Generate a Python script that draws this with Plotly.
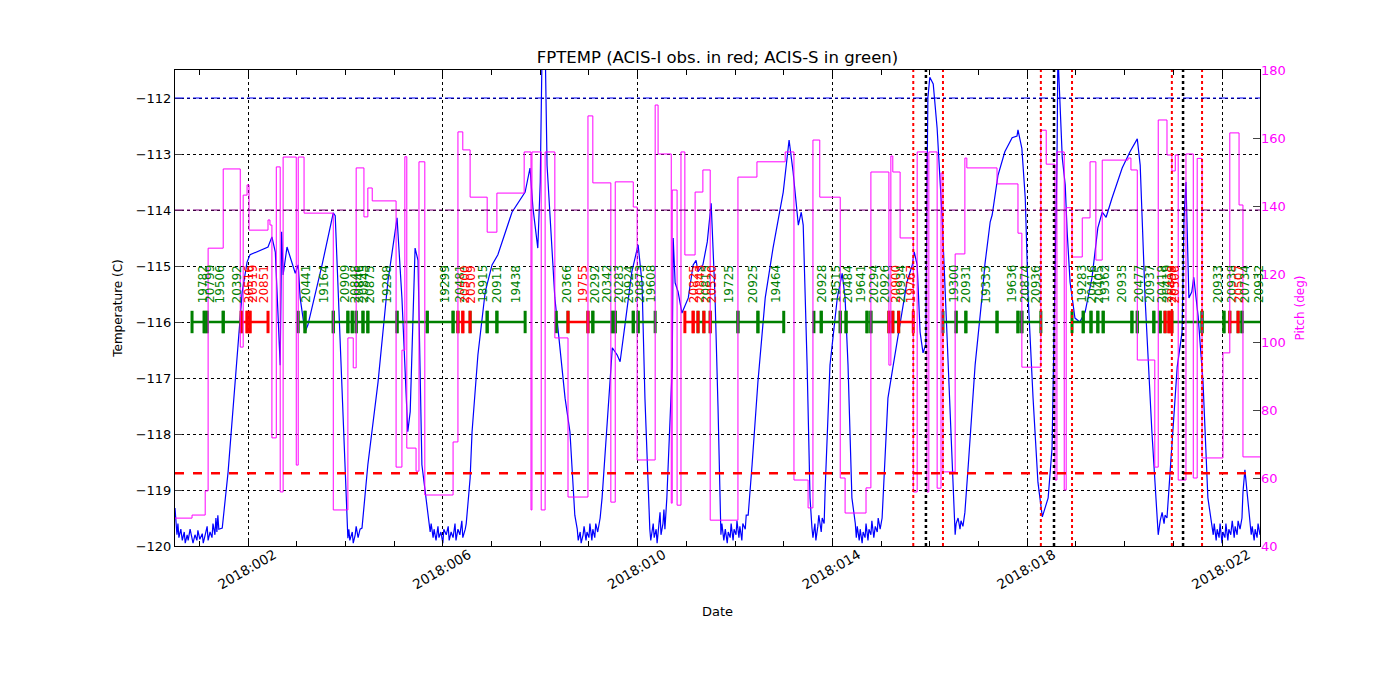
import numpy as np
import pandas as pd
import plotly.graph_objects as go

# FPTEMP readings, time in fractional day of year 2018
temp_doy = [
    0.50, 0.52, 0.54, 0.56, 0.58, 0.62, 0.65, 0.69, 0.71, 0.75, 0.77, 0.81, 0.85, 0.87, 0.91, 0.95,
    0.97, 1.01, 1.06, 1.08, 1.12, 1.16, 1.18, 1.22, 1.26, 1.28, 1.32, 1.34, 1.36, 1.38, 1.40, 1.47,
    1.59, 1.73, 1.88, 1.98, 2.04, 2.41, 2.49, 2.56, 2.62, 2.66, 2.69, 2.72, 2.80, 2.97, 3.03, 3.07,
    3.17, 3.23, 3.52, 3.75, 3.79, 3.93, 4.03, 4.05,
    4.07, 4.09, 4.14, 4.16, 4.20, 4.22, 4.26, 4.30, 4.34,
    4.46, 4.67, 4.87, 5.06, 5.16, 5.28, 5.33, 5.43, 5.49, 5.57, 5.68, 5.70,
    5.74, 5.76, 5.80, 5.82, 5.86, 5.90, 5.92, 5.96, 6.00, 6.02, 6.07, 6.11, 6.13, 6.17, 6.21, 6.25,
    6.27, 6.31, 6.35, 6.39, 6.41, 6.46, 6.48, 6.52,
    6.56, 6.60, 6.72, 6.87, 7.01, 7.13, 7.42, 7.69, 7.79, 7.85, 7.95, 8.00, 8.04, 8.10, 8.14, 8.30,
    8.51, 8.61, 8.71,
    8.76, 8.78, 8.82, 8.84, 8.88, 8.90, 8.94, 8.96, 9.00, 9.02, 9.06, 9.08, 9.12, 9.14, 9.18, 9.23,
    9.27, 9.33, 9.48, 9.58, 9.64, 9.74, 9.88, 10.01, 10.09, 10.15, 10.23,
    10.25, 10.27, 10.32, 10.34, 10.38, 10.40, 10.44, 10.46, 10.48, 10.52, 10.54, 10.56, 10.60,
    10.71, 10.73, 10.77, 10.83, 10.91, 11.04, 11.14, 11.20, 11.24, 11.34, 11.43, 11.51, 11.59, 11.65,
    11.69,
    11.71, 11.73, 11.77, 11.80, 11.84, 11.86, 11.90, 11.92, 11.96, 11.98, 12.02, 12.04, 12.08, 12.10,
    12.14, 12.16, 12.21, 12.23, 12.27,
    12.35, 12.47, 12.62, 12.78, 12.99, 13.11, 13.19, 13.30, 13.36, 13.40, 13.48, 13.54, 13.58,
    13.60, 13.64, 13.66, 13.70, 13.72, 13.77, 13.79, 13.83,
    13.85, 13.95, 14.10, 14.20, 14.26, 14.32, 14.40, 14.47,
    14.49, 14.51, 14.55, 14.57, 14.61, 14.63, 14.67, 14.69, 14.73, 14.75, 14.79, 14.81, 14.85, 14.88,
    14.92, 14.94, 14.98, 15.02,
    15.04, 15.14, 15.24, 15.39, 15.53, 15.64, 15.68, 15.74, 15.80, 15.86, 15.92, 15.94, 15.96, 16.00,
    16.07, 16.15, 16.25, 16.35, 16.46, 16.52,
    16.54, 16.58, 16.62, 16.64, 16.68, 16.72,
    16.79, 16.93, 17.07, 17.13, 17.24, 17.28, 17.40, 17.54, 17.69, 17.79, 17.81, 17.89, 17.96, 18.02,
    18.12, 18.22, 18.31, 18.37, 18.43, 18.51, 18.57, 18.61, 18.63, 18.67, 18.72, 18.78, 18.82, 18.88,
    18.98, 19.08, 19.19, 19.33, 19.45, 19.54, 19.62, 19.74, 19.95, 20.11, 20.26, 20.32, 20.42, 20.56,
    20.67,
    20.69, 20.73, 20.77, 20.81, 20.83, 20.87, 20.97, 21.08, 21.18, 21.22, 21.26, 21.28, 21.32, 21.38,
    21.42, 21.51, 21.61, 21.71, 21.80,
    21.82, 21.84, 21.88, 21.90, 21.94, 21.96, 22.00, 22.02, 22.06, 22.08, 22.12, 22.14, 22.18, 22.21,
    22.25, 22.27, 22.31, 22.33, 22.37, 22.41,
    22.43, 22.47, 22.53, 22.58, 22.60, 22.62, 22.66, 22.68, 22.72, 22.74, 22.78,
]
temp_c = [
    -119.32, -119.55, -119.80, -119.60, -119.85, -119.70, -119.90, -119.75, -119.95, -119.80,
    -119.90, -119.70, -119.85, -119.95, -119.80, -119.90, -119.72, -119.88, -119.78, -119.95,
    -119.80, -119.65, -119.90, -119.75, -119.85, -119.60, -119.80, -119.50, -119.75, -119.45,
    -119.70, -119.68,
    -118.68, -117.07, -115.46, -114.93, -114.80, -114.66, -114.48, -114.75, -115.80, -116.77,
    -114.39, -115.16, -114.66, -115.13, -114.98, -115.57, -116.18, -116.05, -114.98, -114.05,
    -114.10, -117.36, -119.39, -119.86,
    -119.70, -119.90, -119.75, -119.95, -119.80, -119.65, -119.85, -119.70, -119.68,
    -118.55, -117.07, -115.29, -114.14, -115.57, -117.96, -117.60, -114.68, -114.90, -118.55,
    -119.27, -119.50,
    -119.75, -119.60, -119.85, -119.70, -119.90, -119.65, -119.85, -119.75, -119.95, -119.70,
    -119.80, -119.65, -119.90, -119.75, -119.85, -119.60, -119.90, -119.70, -119.80, -119.55,
    -119.85, -119.70, -119.60, -119.20,
    -118.79, -117.96, -116.59, -115.46, -114.98, -114.80, -114.04, -113.68, -113.25, -113.96,
    -114.68, -113.50, -111.00, -111.00, -113.20, -115.57, -117.36, -117.96, -119.45,
    -119.70, -119.90, -119.75, -119.95, -119.80, -119.65, -119.90, -119.75, -119.85, -119.60,
    -119.90, -119.70, -119.85, -119.60, -119.75, -119.50,
    -119.14, -118.40, -116.46, -116.59, -116.71, -116.05, -115.11, -114.62, -115.30, -117.36,
    -119.45,
    -119.70, -119.90, -119.60, -119.85, -119.70, -119.95, -119.65, -119.40, -119.80, -119.60,
    -119.35, -119.70, -119.14,
    -116.80, -114.50, -115.30, -115.46, -115.84, -115.57, -114.98, -114.90, -115.10, -114.98,
    -114.57, -113.88, -115.57, -117.50, -119.40,
    -119.80, -119.60, -119.90, -119.70, -119.95, -119.75, -119.85, -119.60, -119.90, -119.70,
    -119.80, -119.55, -119.85, -119.65, -119.90, -119.60, -119.70, -119.45, -119.45,
    -118.55, -117.07, -115.57, -114.68, -113.68, -112.75, -113.30, -114.27, -114.04, -114.27,
    -116.77, -119.14, -119.68,
    -119.85, -119.60, -119.90, -119.65, -119.45, -119.75, -119.50, -119.60,
    -119.00, -116.77, -115.57, -115.13, -115.57, -116.77, -119.14, -119.60,
    -119.85, -119.65, -119.90, -119.70, -119.95, -119.75, -119.85, -119.60, -119.90, -119.70,
    -119.80, -119.55, -119.85, -119.65, -119.75, -119.50, -119.70, -119.50,
    -119.14, -117.36, -116.82, -116.05, -115.29, -114.98, -114.75, -114.98, -116.18, -116.55,
    -116.40, -113.79, -112.00, -111.63, -111.75, -112.54, -114.09, -116.18, -118.55, -119.80,
    -119.60, -119.50, -119.70, -119.55, -119.65, -119.40,
    -118.55, -116.77, -115.57, -114.98, -114.21, -114.09, -113.38, -112.96, -112.71, -112.68,
    -112.57, -112.90, -113.79, -115.57, -117.36, -118.86, -119.48, -119.30, -119.14, -118.25,
    -115.57, -113.20, -111.20, -112.00, -113.07, -113.55, -114.39, -115.29, -115.93, -116.00,
    -115.82, -115.21, -114.32, -114.04, -114.13, -113.79, -113.25, -112.96, -112.73, -113.20,
    -115.57, -117.96, -119.63,
    -119.80, -119.55, -119.40, -119.60, -119.45, -119.50, -118.25, -116.80, -116.18, -114.14,
    -113.50, -114.40, -115.57, -115.46, -115.20, -115.90, -117.07, -119.14, -119.63,
    -119.80, -119.60, -119.90, -119.70, -119.85, -119.60, -119.95, -119.75, -119.85, -119.60,
    -119.90, -119.70, -119.80, -119.55, -119.85, -119.65, -119.80, -119.55, -119.70, -119.50,
    -119.04, -118.64, -119.14, -119.60, -119.80, -119.65, -119.90, -119.70, -119.85, -119.60,
    -119.80,
]

# pitch angle, held constant from each time until the next one
pitch_doy = [
    0.50, 0.85, 1.12, 1.18, 1.49, 1.84, 1.90, 1.98, 2.02, 2.41, 2.45, 2.49, 2.58, 2.66, 2.72, 2.99,
    3.03, 3.15, 3.75, 4.05, 4.16, 4.22, 4.38, 4.46, 4.55, 5.04, 5.16, 5.22, 5.26, 5.45, 5.51, 5.63,
    6.21, 6.31, 6.41, 6.56, 6.91, 7.11, 7.67, 7.81, 7.83, 8.02, 8.10, 8.30, 8.57, 8.98, 9.08, 9.45,
    9.54, 9.91, 9.99, 10.36, 10.42, 10.69, 10.71, 10.81, 10.89, 10.97, 11.18, 11.34, 11.49, 12.06,
    12.45, 13.03, 13.21, 13.50, 13.60, 13.74, 14.16, 14.26, 14.69, 14.79, 15.16, 15.20, 15.24, 15.39,
    15.66, 15.74, 15.94, 15.98, 16.15, 16.23, 16.27, 16.52, 16.72, 16.76, 17.38, 17.81, 17.89, 18.28,
    18.39, 18.57, 18.61, 18.76, 18.80, 18.92, 19.13, 19.29, 19.41, 19.54, 20.07, 20.13, 20.26, 20.62,
    20.69, 20.87, 20.97, 21.04, 21.10, 21.26, 21.41, 21.49, 21.59, 22.02, 22.16, 22.35, 22.43, 22.78,
]
pitch_deg = [
    48.2, 49.1, 56.2, 127.6, 150.9, 98.5, 143.2, 146.2, 132.9, 135.9, 134.4, 71.8, 151.5, 55.9, 154.4, 63.8,
    154.4, 137.9, 50.6, 101.2, 92.4, 151.2, 136.8, 145.3, 141.5, 63.2, 97.6, 154.5, 68.8, 62.0, 153.0, 55.0,
    70.6, 161.8, 156.5, 142.6, 132.3, 143.8, 155.9, 50.6, 155.9, 50.6, 155.9, 101.2, 54.4, 166.5, 146.8, 52.9,
    147.1, 139.7, 65.3, 169.7, 155.3, 52.6, 144.7, 52.0, 155.9, 125.6, 144.1, 150.6, 47.6, 148.5,
    153.0, 155.9, 59.4, 51.2, 159.4, 142.6, 60.0, 49.7, 57.1, 150.0, 93.2, 154.7, 150.0, 130.6,
    55.9, 155.9, 55.9, 155.9, 57.0, 149.7, 61.8, 125.9, 154.1, 151.2, 146.5, 132.0, 92.6, 162.3,
    152.3, 59.4, 155.9, 56.5, 139.5, 125.0, 136.5, 153.0, 124.1, 153.5, 154.1, 150.6, 94.7, 63.2,
    165.3, 155.0, 150.3, 155.0, 59.4, 155.3, 60.0, 154.0, 65.9, 96.8, 161.5, 140.3, 66.2, 66.2,
]

# observations (I = ACIS-I, S = ACIS-S)
obsids = [
    "19782", "20799", "19506", "20392", "20516", "20519", "20851", "20441", "19164", "20909",
    "20848", "20846", "20845", "20875", "19298", "", "19299", "20481", "20500", "20509",
    "18915", "20911", "19438", "20366", "19755", "20292", "20342", "20283", "20924", "20873",
    "19608", "20825", "20843", "20815", "20520", "19725", "20925", "19464", "20928", "19515",
    "20484", "19641", "20294", "20926", "20900", "20934", "19767", "19300", "20931", "19333",
    "19636", "20874", "20936", "19283", "20416", "20405", "19362", "20935", "20477", "20937",
    "20418", "20419", "20499", "20506", "", "20933", "20938", "20507", "20734", "20932",
]
obs_start = [
    0.85, 1.10, 1.16, 1.49, 1.86, 1.98, 2.04, 3.03, 3.17, 3.75, 4.05, 4.14, 4.22, 4.36, 4.46, 5.06,
    5.68, 6.21, 6.31, 6.41, 6.56, 6.91, 7.11, 8.33, 8.57, 8.98, 9.08, 9.48, 9.54, 9.91, 10.01, 10.97,
    11.14, 11.24, 11.36, 11.49, 12.06, 12.47, 13.62, 13.77, 14.16, 14.28, 14.71, 14.79, 15.16, 15.24,
    15.36, 16.27, 16.54, 16.74, 17.38, 17.81, 17.89, 18.92, 19.15, 19.31, 19.45, 19.56, 20.15, 20.26,
    20.60, 20.73, 20.83, 20.91, 20.97, 21.59, 22.04, 22.16, 22.33, 22.41,
]
obs_stop = [
    1.10, 1.16, 1.49, 1.86, 1.98, 2.04, 2.41, 3.17, 3.75, 4.05, 4.14, 4.22, 4.36, 4.46, 5.06, 5.68,
    6.21, 6.31, 6.41, 6.56, 6.91, 7.11, 7.69, 8.57, 8.98, 9.08, 9.48, 9.54, 9.91, 10.01, 10.36, 11.14,
    11.24, 11.36, 11.49, 12.06, 12.47, 13.00, 13.77, 14.16, 14.28, 14.71, 14.79, 15.16, 15.24, 15.36,
    15.66, 16.54, 16.74, 17.38, 17.81, 17.89, 18.28, 19.15, 19.31, 19.45, 19.56, 20.15, 20.26, 20.60,
    20.73, 20.83, 20.91, 20.97, 21.59, 22.04, 22.16, 22.33, 22.41, 22.90,
]
obs_inst = list(
    "SSSS" "III" "SSSSSSSSSSS" "II" "SSSS" "I" "SSSSSS" "II" "S" "I"
    "SSSSSSSSS" "I" "S" "I" "SSSSSSSSSSSSSSS" "II" "SSS" "I" "SS"
)

# radiation zone entry/exit and perigee times
radzone_edges = [15.66, 16.27, 18.28, 18.92, 20.97, 21.59]
perigees = [15.92, 18.55, 21.20]

yellow_hi = -112.0
planning_hi = -114.0
acis_i_limit = -118.7

tick_doy = [2, 6, 10, 14, 18, 22]
tick_text = ["2018:002", "2018:006", "2018:010", "2018:014", "2018:018", "2018:022"]

assert len(temp_doy) == len(temp_c)
assert len(pitch_doy) == len(pitch_deg)
assert len(obsids) == len(obs_start) == len(obs_stop) == len(obs_inst)


def to_time(doy):
    return pd.Timestamp("2018-01-01") + pd.to_timedelta(np.asarray(doy, dtype=float) - 1.0, unit="D")


font = "DejaVu Sans"
colors = {"I": "red", "S": "green"}
fig = go.Figure()

fig.add_trace(go.Scatter(
    x=to_time(temp_doy), y=temp_c, mode="lines",
    line=dict(color="blue", width=1.2), showlegend=False,
))

# observation bars at -116
for inst in ["S", "I"]:
    xs, ys = [], []
    for s, e, i in zip(obs_start, obs_stop, obs_inst):
        if i != inst:
            continue
        xs += [to_time(s), to_time(e), None]
        ys += [-116, -116, None]
    fig.add_trace(go.Scatter(
        x=xs, y=ys, mode="lines+markers",
        line=dict(color=colors[inst], width=2.5),
        marker=dict(symbol="line-ns-open", size=16, line=dict(color=colors[inst], width=3)),
        showlegend=False,
    ))

fig.add_trace(go.Scatter(
    x=to_time(pitch_doy), y=pitch_deg, mode="lines", line_shape="hv",
    line=dict(color="magenta", width=1), yaxis="y2", showlegend=False,
))

annotations = []
for oid, s, e, i in zip(obsids, obs_start, obs_stop, obs_inst):
    if not oid:
        continue
    annotations.append(dict(
        x=to_time((s + e) / 2), y=-115.70, xref="x", yref="y", text=oid,
        textangle=-90, showarrow=False, xanchor="center", yanchor="bottom", xshift=5,
        font=dict(family=font, size=12, color=colors[i]),
    ))

shapes = [
    dict(type="line", xref="paper", x0=0, x1=1, yref="y", y0=yellow_hi, y1=yellow_hi,
         line=dict(color="blue", width=1, dash="dashdot")),
    dict(type="line", xref="paper", x0=0, x1=1, yref="y", y0=planning_hi, y1=planning_hi,
         line=dict(color="purple", width=1, dash="dashdot")),
    dict(type="line", xref="paper", x0=0, x1=1, yref="y", y0=acis_i_limit, y1=acis_i_limit,
         line=dict(color="red", width=2.5, dash="dash")),
]
for d in radzone_edges:
    shapes.append(dict(type="line", xref="x", x0=to_time(d), x1=to_time(d), yref="paper", y0=0, y1=1,
                       line=dict(color="red", width=2, dash="dot")))
for d in perigees:
    shapes.append(dict(type="line", xref="x", x0=to_time(d), x1=to_time(d), yref="paper", y0=0, y1=1,
                       line=dict(color="black", width=2.5, dash="dot")))

# page body adds an 8 px offset, so the figure is slightly smaller than the window
fig.update_layout(
    width=1384, height=684,
    margin=dict(l=167, r=132, t=62, b=146),
    paper_bgcolor="white", plot_bgcolor="white",
    font=dict(family=font, size=13, color="black"),
    title=dict(text="FPTEMP (ACIS-I obs. in red; ACIS-S in green)", x=0.5, xref="paper",
               y=1 - 49 / 684, yref="container", yanchor="middle", font=dict(size=16.5)),
    annotations=annotations, shapes=shapes,
    xaxis=dict(
        type="date", range=[to_time(0.5), to_time(22.78)],
        tickvals=to_time(tick_doy), ticktext=tick_text, tickangle=-30,
        ticks="inside", ticklen=6, tickcolor="black",
        ticklabelshift=26, ticklabelstandoff=-5,
        minor=dict(ticks="inside", ticklen=5, dtick=86400000, tick0="2018-01-01", showgrid=False),
        showgrid=True, gridcolor="black", griddash="dot", gridwidth=1,
        showline=True, linecolor="black", linewidth=1, mirror="ticks",
        zeroline=False, tickfont=dict(size=13.5),
        title=dict(text="Date", standoff=15, font=dict(size=13)),
    ),
    yaxis=dict(
        range=[-120, -111.5], tickvals=list(range(-120, -111)), ticks="inside", ticklen=7,
        showgrid=True, gridcolor="black", griddash="dot", gridwidth=1,
        showline=True, linecolor="black", linewidth=1, mirror=True, zeroline=False,
        tickfont=dict(size=13), title=dict(text="Temperature (C)", standoff=10, font=dict(size=12)),
    ),
    yaxis2=dict(
        overlaying="y", side="right", range=[40, 180], dtick=20, ticks="inside", ticklen=7,
        showgrid=False, zeroline=False, tickfont=dict(size=13, color="magenta"),
        title=dict(text="Pitch (deg)", font=dict(color="magenta", size=12), standoff=10),
    ),
)

fig.write_html("out.html")
